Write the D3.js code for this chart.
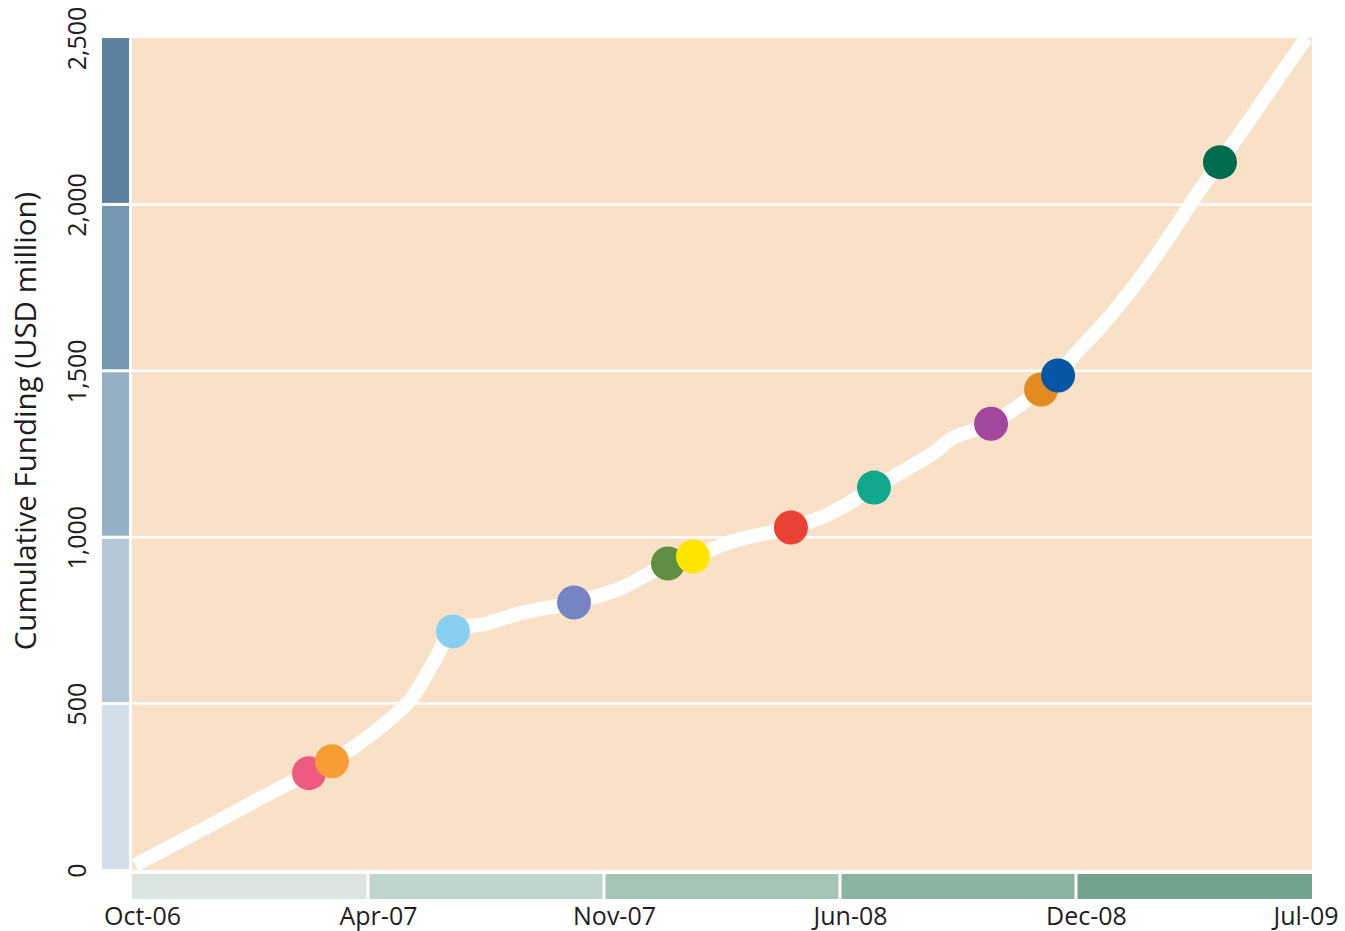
<!DOCTYPE html>
<html>
<head>
<meta charset="utf-8">
<script src="https://cdn.jsdelivr.net/npm/d3@7"></script>
<style>
  html, body { margin: 0; padding: 0; background: #ffffff; }
  svg text { font-family: "Open Sans", "Noto Sans", sans-serif; fill: #1f1c1d; }
</style>
</head>
<body>
<svg id="chart" width="1345" height="931"></svg>
<script>
// Period tick labels along the bottom (equally spaced periods)
const periodLabels = ["Oct-06", "Apr-07", "Nov-07", "Jun-08", "Dec-08", "Jul-09"];
const periodIndex = [0, 1, 2, 3, 4, 5];

// Funding axis ticks (USD million)
const fundingTicks = [0, 500, 1000, 1500, 2000, 2500];

// Cumulative funding curve: position along the period axis and value
const curvePeriod  = [0.013, 0.373, 0.585, 0.750, 0.847, 1.021, 1.178, 1.275, 1.360, 1.504, 1.644, 1.873, 2.068, 2.271, 2.377, 2.555, 2.792, 2.958, 3.144, 3.394, 3.479, 3.640, 3.852, 3.924, 3.987, 4.131, 4.271, 4.411, 4.513, 4.610, 4.975];
const curveFunding = [15, 150, 231, 291, 327, 411, 510, 621, 717, 741, 771, 804, 846, 921, 942, 990, 1029, 1071, 1149, 1252, 1299, 1341, 1444, 1486, 1542, 1653, 1778, 1920, 2031, 2127, 2500];

// Milestone markers on the curve
const markerPeriod  = [0.750, 0.847, 1.360, 1.873, 2.271, 2.377, 2.792, 3.144, 3.640, 3.852, 3.924, 4.610];
const markerFunding = [291, 327, 717, 804, 921, 942, 1029, 1149, 1341, 1444, 1486, 2127];
const markerColors  = ["#ef5b80", "#f89c36", "#88d0f2", "#7584c2", "#5e8f42", "#ffe500", "#eb4034", "#12a88e", "#a2479d", "#e38b1f", "#0656a8", "#006c4f"];

// Band colours for the side and bottom scales
const fundingBandColors = ["#d3dfe8", "#b4c8d8", "#93b0c5", "#7598b2", "#5a81a0"];
const periodBandColors  = ["#dbe6e0", "#bfd4cb", "#a4c4b6", "#8ab3a2", "#70a28d"];

const svg = d3.select("#chart");

const plot = { left: 132, right: 1312, top: 38, bottom: 870 };

const x = d3.scaleLinear().domain([0, 5]).range([plot.left, plot.right]);
const y = d3.scaleLinear().domain([0, 2500]).range([plot.bottom, plot.top]);

// Plot background
svg.append("rect")
  .attr("x", plot.left).attr("y", plot.top)
  .attr("width", plot.right - plot.left).attr("height", plot.bottom - plot.top)
  .attr("fill", "#f8e1c6");

// Funding bands on the left
const gap = 3;
svg.append("g").selectAll("rect")
  .data(d3.range(fundingTicks.length - 1))
  .join("rect")
  .attr("x", 102)
  .attr("width", 27)
  .attr("y", i => y(fundingTicks[i + 1]) + (i === fundingTicks.length - 2 ? 0 : gap / 2))
  .attr("height", i => y(fundingTicks[i]) - y(fundingTicks[i + 1]) - (i === fundingTicks.length - 2 ? gap / 2 : gap) - (i === 0 ? -gap / 2 + 1 : 0))
  .attr("fill", i => fundingBandColors[i]);

// Period bands along the bottom
svg.append("g").selectAll("rect")
  .data(d3.range(periodIndex.length - 1))
  .join("rect")
  .attr("x", i => x(periodIndex[i]) + (i === 0 ? 0 : gap / 2))
  .attr("width", i => x(periodIndex[i + 1]) - x(periodIndex[i]) - (i === 0 || i === periodIndex.length - 2 ? gap / 2 : gap))
  .attr("y", 874)
  .attr("height", 25)
  .attr("fill", i => periodBandColors[i]);

// Horizontal gridlines (run across the side band as white gaps)
svg.append("g").selectAll("line")
  .data(fundingTicks.slice(1, -1))
  .join("line")
  .attr("x1", plot.left).attr("x2", plot.right)
  .attr("y1", d => y(d)).attr("y2", d => y(d))
  .attr("stroke", "#ffffff").attr("stroke-width", 2.5);

// Curve, clipped to the plot area
svg.append("clipPath").attr("id", "plot-clip")
  .append("rect")
  .attr("x", plot.left).attr("y", plot.top)
  .attr("width", plot.right - plot.left).attr("height", plot.bottom - plot.top);

const curveData = curvePeriod.map((p, i) => [p, curveFunding[i]]);
const line = d3.line()
  .x(d => x(d[0]))
  .y(d => y(d[1]))
  .curve(d3.curveCatmullRom.alpha(0.5));

svg.append("path")
  .attr("clip-path", "url(#plot-clip)")
  .attr("d", line(curveData))
  .attr("fill", "none")
  .attr("stroke", "#ffffff")
  .attr("stroke-width", 14)
  .attr("stroke-linecap", "butt")
  .attr("stroke-linejoin", "round");

// Milestone markers
svg.append("g").selectAll("circle")
  .data(markerPeriod.map((p, i) => ({ p, v: markerFunding[i], c: markerColors[i] })))
  .join("circle")
  .attr("cx", d => x(d.p))
  .attr("cy", d => y(d.v))
  .attr("r", 17)
  .attr("fill", d => d.c);

// Funding axis labels (rotated)
const yAxis = svg.append("g")
  .attr("transform", "translate(86,0)")
  .call(d3.axisLeft(y).tickValues(fundingTicks).tickFormat(d3.format(",")).tickSize(0).tickPadding(0));
yAxis.select(".domain").remove();
yAxis.selectAll("text")
  .attr("x", 0).attr("dy", 0)
  .attr("transform", "rotate(-90)")
  .attr("text-anchor", "middle")
  .style("font-size", "25px")
  .style("font-family", null);

// Period axis labels
const xAxis = svg.append("g")
  .attr("transform", "translate(0,899)")
  .call(d3.axisBottom(x).tickValues(periodIndex).tickFormat(i => periodLabels[i]).tickSize(0).tickPadding(0));
xAxis.select(".domain").remove();
xAxis.selectAll("text")
  .attr("y", 26).attr("dy", 0)
  .attr("x", i => i === periodIndex.length - 1 ? 26 : 10)
  .attr("text-anchor", i => i === periodIndex.length - 1 ? "end" : "middle")
  .style("font-size", "25px")
  .style("font-family", null);

// Axis title
svg.append("text")
  .attr("transform", `translate(36,${(190 + 652) / 2}) rotate(-90)`)
  .attr("text-anchor", "middle")
  .style("font-size", "29.5px")
  .text("Cumulative Funding (USD million)");
</script>
</body>
</html>
